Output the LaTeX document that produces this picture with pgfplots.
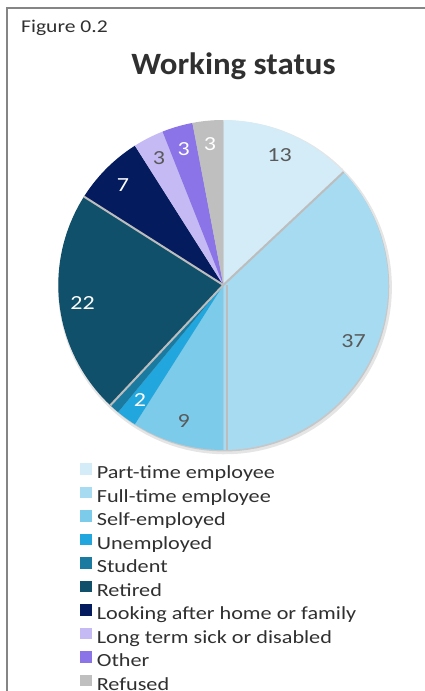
\documentclass[border=0pt]{standalone}
\usepackage{pgfplots}
\pgfplotsset{compat=1.18}
\usepackage{pgfplotstable}
\usepackage{fontspec}
\setmainfont{Carlito}[FakeStretch=1.2]
\newfontfamily\titlefont{Carlito}[FakeStretch=1.06]

\definecolor{cPart}{HTML}{D3ECF7}
\definecolor{cFull}{HTML}{A7DBF1}
\definecolor{cSelf}{HTML}{7CCBEA}
\definecolor{cUnem}{HTML}{22A6DE}
\definecolor{cStud}{HTML}{1A7AA0}
\definecolor{cReti}{HTML}{11506A}
\definecolor{cLook}{HTML}{041C5E}
\definecolor{cLong}{HTML}{C5BAF4}
\definecolor{cOther}{HTML}{8B73E8}
\definecolor{cRef}{HTML}{BFBFBF}
\definecolor{labgray}{HTML}{595959}
\definecolor{txtgray}{HTML}{303030}
\definecolor{framegray}{HTML}{858585}
\definecolor{bordergray}{HTML}{BDBDBD}

% label positions: mid point of each slice in cumulative percent
\pgfplotstableread{
mid lab
6.5 13
31.5 37
54.5 9
92.5 3
}\graylabels
\pgfplotstableread{
mid lab
60 2
73 22
87.5 7
95.5 3
98.5 3
}\whitelabels

\begin{document}
\begin{tikzpicture}
\useasboundingbox (0pt,0pt) rectangle (425pt,691pt);
\draw[line width=2.4pt, color=framegray] (7pt,-5pt) -- (7pt,683pt) -- (432pt,683pt);
\node[anchor=base west, inner sep=0pt, text=txtgray, font=\fontsize{18}{20}\selectfont] at (21pt,658pt) {Figure 0.2};
\node[anchor=base, inner sep=0pt, text=txtgray, font=\titlefont\bfseries\fontsize{31}{34}\selectfont] at (233.5pt,616pt) {Working status};

\begin{axis}[
  at={(58.3pt,241pt)}, anchor=south west,
  width=330pt, height=330pt, scale only axis,
  xmin=-1.0, xmax=1.0, ymin=-1.0, ymax=1.0,
  hide axis, clip=false,
  area legend,
  legend cell align=left,
  legend image code/.code={\fill[#1, draw=none] (0pt,0pt) rectangle (11.5pt,11.5pt);},
  legend style={at={(0.0667,-0.0394)}, anchor=north west, draw=none, fill=none,
    inner sep=0pt, outer sep=0pt, font=\fontsize{18.5}{20}\selectfont, text=txtgray,
    row sep=4pt, column sep=5pt,
    nodes={inner sep=0pt, text height=12pt, text depth=4pt}},
]
% soft shadow
\addplot[forget plot, draw=none, fill=black!10, domain=0:100, samples=120]
  ({1.012*cos(3.6*x)+0.01},{1.012*sin(3.6*x)-0.014}) -- cycle;
\addplot[forget plot, draw=none, fill=black!22, domain=0:100, samples=120]
  ({1.0*cos(3.6*x)+0.006},{1.0*sin(3.6*x)-0.009}) -- cycle;

% slices: domain = cumulative percent
\addplot[fill=cPart, draw=none, domain=0:13, samples=30]
  ({cos(90-3.6*x)},{sin(90-3.6*x)}) -- (axis cs:0,0) -- cycle;
\addlegendentry{Part-time employee}
\addplot[fill=cFull, draw=none, domain=13:50, samples=60]
  ({cos(90-3.6*x)},{sin(90-3.6*x)}) -- (axis cs:0,0) -- cycle;
\addlegendentry{Full-time employee}
\addplot[fill=cSelf, draw=none, domain=50:59, samples=20]
  ({cos(90-3.6*x)},{sin(90-3.6*x)}) -- (axis cs:0,0) -- cycle;
\addlegendentry{Self-employed}
\addplot[fill=cUnem, draw=none, domain=59:61, samples=8]
  ({cos(90-3.6*x)},{sin(90-3.6*x)}) -- (axis cs:0,0) -- cycle;
\addlegendentry{Unemployed}
\addplot[fill=cStud, draw=none, domain=61:62, samples=6]
  ({cos(90-3.6*x)},{sin(90-3.6*x)}) -- (axis cs:0,0) -- cycle;
\addlegendentry{Student}
\addplot[fill=cReti, draw=none, domain=62:84, samples=40]
  ({cos(90-3.6*x)},{sin(90-3.6*x)}) -- (axis cs:0,0) -- cycle;
\addlegendentry{Retired}
\addplot[fill=cLook, draw=none, domain=84:91, samples=16]
  ({cos(90-3.6*x)},{sin(90-3.6*x)}) -- (axis cs:0,0) -- cycle;
\addlegendentry{Looking after home or family}
\addplot[fill=cLong, draw=none, domain=91:94, samples=8]
  ({cos(90-3.6*x)},{sin(90-3.6*x)}) -- (axis cs:0,0) -- cycle;
\addlegendentry{Long term sick or disabled}
\addplot[fill=cOther, draw=none, domain=94:97, samples=8]
  ({cos(90-3.6*x)},{sin(90-3.6*x)}) -- (axis cs:0,0) -- cycle;
\addlegendentry{Other}
\addplot[fill=cRef, draw=none, domain=97:100, samples=8]
  ({cos(90-3.6*x)},{sin(90-3.6*x)}) -- (axis cs:0,0) -- cycle;
\addlegendentry{Refused}

% light grey gaps around the two separated slices
\addplot[forget plot, draw=bordergray, line width=2pt, domain=0:1, samples=2] ({x*cos(90-3.6*13)},{x*sin(90-3.6*13)});
\addplot[forget plot, draw=bordergray, line width=2pt, domain=0:1, samples=2] ({x*cos(90-3.6*50)+0.02},{x*sin(90-3.6*50)});
\addplot[forget plot, draw=bordergray, line width=2pt, domain=0:1, samples=2] ({x*cos(90-3.6*62)},{x*sin(90-3.6*62)});
\addplot[forget plot, draw=bordergray, line width=2pt, domain=0:1, samples=2] ({x*cos(90-3.6*84)},{x*sin(90-3.6*84)});

% data labels
\addplot[forget plot, only marks, mark=*, mark size=0pt, mark options={draw=none, fill=none},
  nodes near coords, point meta=explicit symbolic,
  every node near coord/.append style={anchor=center, inner sep=0pt, text=labgray, font=\fontsize{20}{22}\selectfont}]
  table[x expr={0.86*cos(90-3.6*\thisrow{mid})}, y expr={0.86*sin(90-3.6*\thisrow{mid})}, meta=lab] {\graylabels};
\addplot[forget plot, only marks, mark=*, mark size=0pt, mark options={draw=none, fill=none},
  nodes near coords, point meta=explicit symbolic,
  every node near coord/.append style={anchor=center, inner sep=0pt, text=white, font=\fontsize{20}{22}\selectfont}]
  table[x expr={0.86*cos(90-3.6*\thisrow{mid})}, y expr={0.86*sin(90-3.6*\thisrow{mid})}, meta=lab] {\whitelabels};
\end{axis}
\end{tikzpicture}
\end{document}
